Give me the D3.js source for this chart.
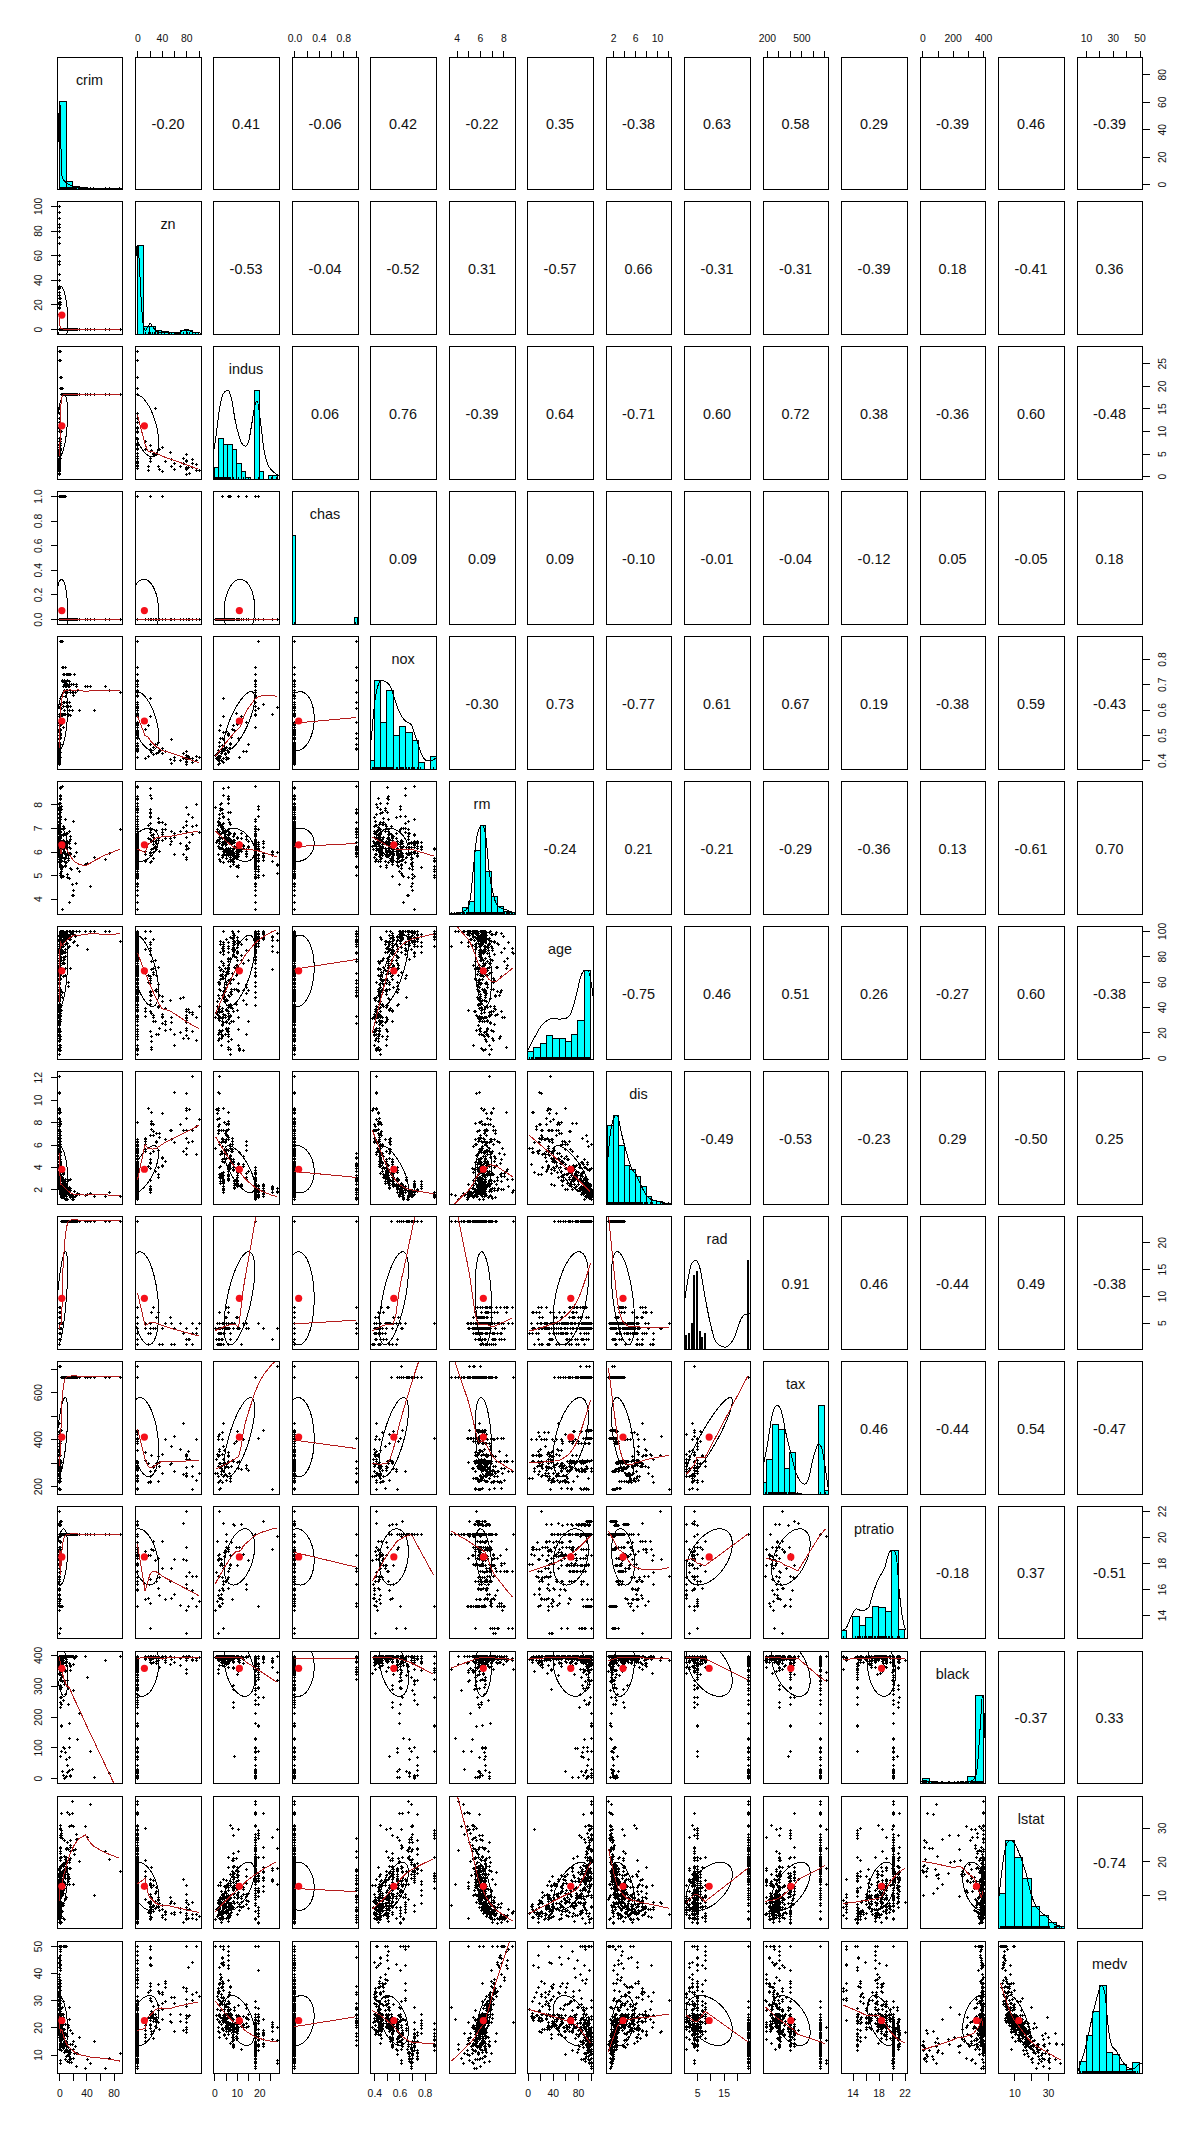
<!DOCTYPE html>
<html>
<head>
<meta charset="utf-8">
<script src="https://cdn.jsdelivr.net/npm/d3@7"></script>
<style>
body { margin: 0; background: #fff; }
svg { display: block; }
text { font-family: "Liberation Sans", Arial, sans-serif; fill: #111; }
</style>
</head>
<body>
<div id="chart"></div>
<script>
var varNames = ["crim","zn","indus","chas","nox","rm","age","dis","rad","tax","ptratio","black","lstat","medv"];

var varMin = [0.00632,0,0.46,0,0.385,3.561,2.9,1.1296,1,187,12.6,0.32,1.73,5];
var varMax = [88.9762,100,27.74,1,0.871,8.78,100,12.1265,24,711,22,396.9,37.97,50];
var varMean = [3.61,11.36,11.14,0.069,0.555,6.285,68.57,3.795,9.549,408.2,18.46,356.67,12.65,22.53];
var varSd = [8.6,23.32,6.86,0.254,0.116,0.703,28.15,2.106,8.707,168.5,2.165,91.29,7.14,9.197];

// upper triangle as printed, one row per variable
var corrUpper = [
  [-0.20,0.41,-0.06,0.42,-0.22,0.35,-0.38,0.63,0.58,0.29,-0.39,0.46,-0.39],
  [-0.53,-0.04,-0.52,0.31,-0.57,0.66,-0.31,-0.31,-0.39,0.18,-0.41,0.36],
  [0.06,0.76,-0.39,0.64,-0.71,0.60,0.72,0.38,-0.36,0.60,-0.48],
  [0.09,0.09,0.09,-0.10,-0.01,-0.04,-0.12,0.05,-0.05,0.18],
  [-0.30,0.73,-0.77,0.61,0.67,0.19,-0.38,0.59,-0.43],
  [-0.24,0.21,-0.21,-0.29,-0.36,0.13,-0.61,0.70],
  [-0.75,0.46,0.51,0.26,-0.27,0.60,-0.38],
  [-0.49,-0.53,-0.23,0.29,-0.50,0.25],
  [0.91,0.46,-0.44,0.49,-0.38],
  [0.46,-0.44,0.54,-0.47],
  [-0.18,0.37,-0.51],
  [-0.37,0.33],
  [-0.74]
];

// ticks and which of them carry a label
var xTicks = [[0,20,40,60,80],[0,20,40,60,80,100],[0,5,10,15,20,25],[0,0.2,0.4,0.6,0.8,1],[0.4,0.5,0.6,0.7,0.8],[4,5,6,7,8],[0,20,40,60,80,100],[2,4,6,8,10,12],[5,10,15,20],[200,300,400,500,600,700],[14,16,18,20,22],[0,100,200,300,400],[10,20,30],[10,20,30,40,50]];
var xLabels = [[0,40,80],[0,40,80],[0,10,20],[0,0.4,0.8],[0.4,0.6,0.8],[4,6,8],[0,40,80],[2,6,10],[5,15],[200,500],[14,18,22],[0,200,400],[10,30],[10,30,50]];
var yLabels = [[0,20,40,60,80],[0,20,40,60,80,100],[0,5,10,15,20,25],[0,0.2,0.4,0.6,0.8,1],[0.4,0.5,0.6,0.7,0.8],[4,5,6,7,8],[0,20,40,60,80,100],[2,4,6,8,10,12],[5,10,15,20],[200,400,600],[14,16,18,20,22],[0,100,200,300,400],[10,20,30],[10,20,30,40,50]];
var tickDigits = [0,0,0,1,1,0,0,0,0,0,0,0,0,0];

// histograms, tallest bar = 1
var crimBreaks = [0,10,20,30,40,50,60,70,80,90], crimBars = [1,0.09,0.025,0.015,0.005,0.002,0.002,0.002,0.002];
var znBreaks = [0,10,20,30,40,50,60,70,80,90,100], znBars = [1,0.087,0.087,0.04,0.027,0.02,0.01,0.04,0.04,0.02];
var indusBreaks = [0,2,4,6,8,10,12,14,16,18,20,22,24,26,28], indusBars = [0.125,0.455,0.39,0.39,0.33,0.18,0.09,0.02,0,1,0.09,0,0.045,0.04];
var chasBreaks = [0,1], chasBars = [1,0.074];
var noxBreaks = [0.35,0.4,0.45,0.5,0.55,0.6,0.65,0.7,0.75,0.8,0.85,0.9], noxBars = [0.1,1,0.53,0.89,0.38,0.48,0.41,0.32,0.07,0,0.14];
var rmBreaks = [3.5,4,4.5,5,5.5,6,6.5,7,7.5,8,8.5,9], rmBars = [0.005,0.02,0.07,0.14,0.72,1,0.48,0.2,0.08,0.03,0.015];
var ageBreaks = [0,10,20,30,40,50,60,70,80,90,100], ageBars = [0.08,0.125,0.18,0.27,0.23,0.23,0.2,0.28,0.43,1];
var disBreaks = [1,2,3,4,5,6,7,8,9,10,11,12,13], disBars = [0.89,1,0.66,0.43,0.39,0.31,0.2,0.09,0.035,0.025,0.008,0.005];
var radBreaks = [1,2,3,4,5,6,7,8,24], radBars = [0.15,0.18,0.29,0.83,0.87,0.2,0.13,0.18,1];
var taxBreaks = [150,200,250,300,350,400,450,500,550,600,650,700,750], taxBars = [0.13,0.39,0.78,0.73,0.29,0.47,0.01,0,0,0,1,0.04];
var ptratioBreaks = [12,13,14,15,16,17,18,19,20,21,22], ptratioBars = [0.087,0,0.24,0.14,0.23,0.36,0.35,0.3,1,0.1];
var blackBreaks = [0,50,100,150,200,250,300,350,400], blackBars = [0.05,0.02,0.008,0.005,0.005,0.01,0.07,1];
var lstatBreaks = [0,5,10,15,20,25,30,35,40], lstatBars = [0.39,1,0.8,0.56,0.25,0.14,0.065,0.015];
var medvBreaks = [5,10,15,20,25,30,35,40,45,50], medvBars = [0.13,0.43,0.7,1,0.23,0.21,0.1,0.045,0.12];

var allBreaks = [crimBreaks,znBreaks,indusBreaks,chasBreaks,noxBreaks,rmBreaks,ageBreaks,disBreaks,radBreaks,taxBreaks,ptratioBreaks,blackBreaks,lstatBreaks,medvBreaks];
var allBars = [crimBars,znBars,indusBars,chasBars,noxBars,rmBars,ageBars,disBars,radBars,taxBars,ptratioBars,blackBars,lstatBars,medvBars];
var tableVars = ["chas","rad"]; // these have few distinct values, narrow bars on each value

// density outlines, [value, height]
var crimDensity = [[-3.5,0.2],[-2,0.55],[0,0.95],[0.7,1],[1.5,0.84],[2.5,0.4],[3.2,0.18],[5,0.12],[9,0.08],[14,0.05],[20,0.03],[30,0.008],[50,0.003],[92,0]];
var znDensity = [[-4,0.45],[-1,1],[1,1],[3,0.8],[6,0.4],[8,0.2],[10,0.08],[13,0.04],[17,0.08],[21,0.12],[25,0.08],[30,0.04],[36,0.02],[45,0.02],[55,0.015],[65,0.015],[75,0.04],[80,0.055],[85,0.04],[90,0.02],[104,0.01]];
var indusDensity = [[-0.6,0.26],[0.9,0.52],[2.4,0.81],[3.9,0.96],[5.9,1],[7.7,0.9],[9.2,0.67],[10.8,0.5],[12.3,0.4],[13.8,0.37],[15.3,0.43],[16.8,0.64],[18.3,0.85],[19.1,0.88],[20.6,0.64],[22.1,0.33],[23.6,0.18],[25.9,0.09],[28.9,0.04]];
var noxDensity = [[0.376,0.33],[0.403,0.75],[0.429,0.94],[0.458,1],[0.495,0.98],[0.535,0.91],[0.561,0.79],[0.6,0.64],[0.64,0.55],[0.693,0.5],[0.732,0.35],[0.785,0.14],[0.817,0.095],[0.851,0.095],[0.891,0.125]];
var rmDensity = [[3.4,0],[4,0.005],[4.5,0.02],[5,0.08],[5.2,0.2],[5.45,0.54],[5.81,0.92],[6.18,1],[6.46,0.91],[6.8,0.46],[7.14,0.22],[7.5,0.09],[8.2,0.05],[9,0.005]];
var ageDensity = [[0,0.09],[10.7,0.24],[21.4,0.37],[32,0.44],[40,0.46],[50.6,0.45],[61,0.46],[69,0.52],[77,0.71],[85,0.94],[90.5,1],[96,1],[101,0.86],[104,0.71]];
var disDensity = [[0.9,0.42],[1.5,0.8],[2.3,0.99],[2.7,1],[3.5,0.8],[4.3,0.61],[5.3,0.41],[6.2,0.33],[7,0.22],[8.3,0.08],[9.2,0.045],[10.3,0.03],[11.6,0.01],[12.6,0.004]];
var radDensity = [[0.1,0.5],[1.6,0.79],[2.9,0.96],[4.4,1],[6,0.92],[7.9,0.6],[9.9,0.3],[11.7,0.1],[13.6,0.04],[15.4,0.02],[17.3,0.05],[19.2,0.14],[21,0.3],[22.9,0.39],[25.3,0.4]];
var taxDensity = [[166,0.31],[200,0.52],[251,0.92],[288,1],[322,0.95],[365,0.69],[408,0.46],[450,0.25],[493,0.14],[530,0.11],[564,0.18],[606,0.42],[649,0.56],[677,0.52],[706,0.31],[731,0.08]];
var ptratioDensity = [[12.3,0.08],[13.1,0.125],[13.9,0.26],[14.6,0.33],[15.4,0.31],[16.4,0.34],[17.2,0.52],[17.9,0.66],[18.9,0.79],[19.7,0.98],[20.2,1],[20.7,0.94],[21.2,0.52],[21.7,0.22],[22.2,0.09]];
var blackDensity = [[-9,0.02],[24,0.025],[56,0.012],[100,0.006],[200,0.003],[272,0.004],[316,0.015],[348,0.065],[363,0.2],[376,0.5],[387,0.8],[396,1],[406,0.8],[413,0.5]];
var lstatDensity = [[0,0.21],[1.8,0.52],[3.8,0.82],[5.8,0.97],[7.8,1],[10.4,0.95],[13.8,0.8],[16.8,0.63],[19.7,0.4],[22.7,0.25],[25.7,0.18],[29.7,0.12],[33.7,0.045],[38.6,0.015]];
var medvDensity = [[4,0.03],[7.7,0.19],[11.5,0.42],[15.2,0.68],[18.5,0.88],[21.5,1],[24,0.91],[26.5,0.53],[29,0.32],[32.7,0.25],[36.4,0.15],[41.4,0.06],[45.1,0.045],[48.9,0.09],[51.9,0.11]];
var allDensity = [crimDensity,znDensity,indusDensity,null,noxDensity,rmDensity,ageDensity,disDensity,radDensity,taxDensity,ptratioDensity,blackDensity,lstatDensity,medvDensity];

// crim,zn,indus,chas,nox,rm,age,dis,rad,tax,ptratio,black,lstat,medv
var suburbTracts = [
[.00632,18,2.31,0,.538,6.575,65.2,4.09,1,296,15.3,396.9,4.98,24],[.02729,0,7.07,0,.469,7.185,61.1,4.97,2,242,17.8,392.8,4.03,34.7],
[.06905,0,2.18,0,.458,7.147,54.2,6.06,3,222,18.7,396.9,5.33,36.2],[.08829,12.5,7.87,0,.524,6.012,66.6,5.56,5,311,15.2,395.6,12.43,22.9],
[.21124,12.5,7.87,0,.524,5.631,100,6.08,5,311,15.2,386.6,29.93,16.5],[.22489,12.5,7.87,0,.524,6.377,94.3,6.35,5,311,15.2,392.5,20.45,15],
[.09378,12.5,7.87,0,.524,5.889,39,5.45,5,311,15.2,390.5,15.71,21.7],[.63796,0,8.14,0,.538,6.096,84.5,4.46,4,307,21,380,10.26,18.2],
[1.05393,0,8.14,0,.538,5.935,29.3,4.5,4,307,21,386.9,6.58,23.1],[.80271,0,8.14,0,.538,5.456,36.6,3.8,4,307,21,289,11.69,20.2],
[1.25179,0,8.14,0,.538,5.57,98.1,3.8,4,307,21,376.6,21.02,13.6],[1.23247,0,8.14,0,.538,6.142,91.7,3.98,4,307,21,396.9,18.72,15.2],
[.75026,0,8.14,0,.538,5.924,94.1,4.4,4,307,21,394.3,16.3,15.6],[.67191,0,8.14,0,.538,5.813,90.3,4.68,4,307,21,376.9,14.81,16.6],
[.77299,0,8.14,0,.538,6.495,94.4,4.45,4,307,21,387.9,12.8,18.4],[1.13081,0,8.14,0,.538,5.713,94.1,4.23,4,307,21,360.2,22.6,12.7],
[1.38799,0,8.14,0,.538,5.95,82,3.99,4,307,21,232.6,27.71,13.2],[1.61282,0,8.14,0,.538,6.096,96.9,3.76,4,307,21,248.3,20.34,13.5],
[.09744,0,5.96,0,.499,5.841,61.4,3.38,5,279,19.2,377.6,11.41,20],[.17505,0,5.96,0,.499,5.966,30.2,3.85,5,279,19.2,393.4,10.13,24.7],
[.03359,75,2.95,0,.428,7.024,15.8,5.4,3,252,18.3,395.6,1.98,34.9],[.1415,0,6.91,0,.448,6.169,6.6,5.72,3,233,17.9,383.4,5.81,25.3],
[.12744,0,6.91,0,.448,6.77,2.9,5.72,3,233,17.9,385.4,4.84,26.6],[.12269,0,6.91,0,.448,6.069,40,5.72,3,233,17.9,389.4,9.55,21.2],
[.18836,0,6.91,0,.448,5.786,33.3,5.1,3,233,17.9,396.9,14.15,20],[.25387,0,6.91,0,.448,5.399,95.3,5.87,3,233,17.9,396.9,30.81,14.4],
[.08873,21,5.64,0,.439,5.963,45.7,6.81,4,243,16.8,395.6,13.45,19.7],[.0536,21,5.64,0,.439,6.511,21.1,6.81,4,243,16.8,396.9,5.28,25],
[.0136,75,4,0,.41,5.888,47.6,7.32,3,469,21.1,396.9,14.8,18.9],[.02055,85,.74,0,.41,6.383,35.7,9.19,2,313,17.3,396.9,5.77,24.7],
[.01432,100,1.32,0,.411,6.816,40.5,8.32,5,256,15.1,392.9,3.95,31.6],[.15445,25,5.13,0,.453,6.145,29.2,7.81,8,284,19.7,390.7,6.86,23.3],
[.14932,25,5.13,0,.453,5.741,66.2,7.23,8,284,19.7,395.1,13.15,18.7],[.11027,25,5.13,0,.453,6.456,67.8,7.23,8,284,19.7,396.9,6.73,22.2],
[.01951,17.5,1.38,0,.4161,7.104,59.5,9.22,3,216,18.6,393.2,8.05,33],[.04379,80,3.37,0,.398,5.787,31.1,6.61,4,337,16.1,396.9,10.24,19.4],
[.13554,12.5,6.07,0,.409,5.594,36.8,6.5,4,345,18.9,396.9,13.09,17.4],[.08826,0,10.81,0,.413,6.417,6.6,5.29,4,305,19.2,383.7,6.72,24.2],
[.09164,0,10.81,0,.413,6.065,7.8,5.29,4,305,19.2,390.9,5.52,22.8],[.07896,0,12.83,0,.437,6.273,6,4.25,5,398,18.7,394.9,6.78,24.1],
[.10153,0,12.83,0,.437,6.279,74.5,4.05,5,398,18.7,373.7,11.97,20],[.05646,0,12.83,0,.437,6.232,53.7,5.01,5,398,18.7,386.4,12.34,21.2],
[.04113,25,4.86,0,.426,6.727,33.5,5.4,4,281,19,396.9,5.29,28],[.03659,25,4.86,0,.426,6.302,32.2,5.4,4,281,19,396.9,6.72,24.8],
[.05059,0,4.49,0,.449,6.389,48,4.78,3,247,18.5,396.9,9.62,23.9],[.05188,0,4.49,0,.449,6.015,45.1,4.43,3,247,18.5,396,12.86,22.5],
[.0566,0,3.41,0,.489,7.007,86.3,3.42,2,270,17.8,396.9,5.5,23.6],[.04684,0,3.41,0,.489,6.417,66.1,3.09,2,270,17.8,392.2,8.81,22.6],
[.04203,28,15.04,0,.464,6.442,53.6,3.67,4,270,18.2,395,8.16,22.9],[.04294,28,15.04,0,.464,6.249,77.3,3.61,4,270,18.2,396.9,10.59,20.6],
[.11504,0,2.89,0,.445,6.163,69.6,3.5,2,276,18,391.8,11.34,21.4],[.08187,0,2.89,0,.445,7.82,36.9,3.5,2,276,18,393.5,3.57,43.8],
[.14866,0,8.56,0,.52,6.727,79.9,2.78,5,384,20.9,394.8,9.42,27.5],[.22876,0,8.56,0,.52,6.405,85.4,2.72,5,384,20.9,70.8,10.63,18.6],
[.1396,0,8.56,0,.52,6.167,90,2.42,5,384,20.9,392.7,12.33,20.1],[.1712,0,8.56,0,.52,5.836,91.9,2.21,5,384,20.9,395.7,18.66,19.5],
[.12802,0,8.56,0,.52,6.474,97.1,2.43,5,384,20.9,395.2,12.27,19.8],[.10793,0,8.56,0,.52,6.195,54.4,2.78,5,384,20.9,393.5,13,21.7],
[.12329,0,10.01,0,.547,5.913,92.9,2.35,6,432,17.8,395,16.21,18.8],[.14231,0,10.01,0,.547,6.254,84.2,2.26,6,432,17.8,388.7,10.45,18.5],
[.13158,0,10.01,0,.547,6.176,72.5,2.73,6,432,17.8,393.3,12.04,21.2],[.13058,0,10.01,0,.547,5.872,73.1,2.48,6,432,17.8,338.6,15.37,20.4],
[.06899,0,25.65,0,.581,5.87,69.7,2.26,2,188,19.1,389.2,14.37,22],[.09299,0,25.65,0,.581,5.961,92.9,2.09,2,188,19.1,378.1,17.93,20.5],
[.09849,0,25.65,0,.581,5.879,95.8,2.01,2,188,19.1,379.4,17.58,18.8],[.38735,0,25.65,0,.581,5.613,95.6,1.76,2,188,19.1,359.3,27.26,15.7],
[.32543,0,21.89,0,.624,6.431,98.8,1.81,4,437,21.2,396.9,15.39,18],[.34006,0,21.89,0,.624,6.458,98.9,2.12,4,437,21.2,395,12.6,19.2],
[.59005,0,21.89,0,.624,6.372,97.9,2.33,4,437,21.2,385.8,11.12,23],[.97617,0,21.89,0,.624,5.757,98.4,2.35,4,437,21.2,262.8,17.31,15.6],
[.32264,0,21.89,0,.624,5.942,93.5,1.97,4,437,21.2,378.3,16.9,17.4],[.2498,0,21.89,0,.624,5.857,98.2,1.67,4,437,21.2,392,21.32,13.3],
[.2909,0,21.89,0,.624,6.174,93.6,1.61,4,437,21.2,388.1,24.16,14],[3.32105,0,19.58,1,.871,5.403,100,1.32,5,403,14.7,396.9,26.82,13.4],
[2.77974,0,19.58,0,.871,4.903,97.8,1.35,5,403,14.7,396.9,29.29,11.8],[2.15505,0,19.58,0,.871,5.628,100,1.52,5,403,14.7,169.3,16.65,15.6],
[2.33099,0,19.58,0,.871,5.186,93.8,1.53,5,403,14.7,357,28.32,17.8],[1.6566,0,19.58,0,.871,6.122,97.3,1.62,5,403,14.7,372.8,14.1,21.5],
[1.12658,0,19.58,1,.871,5.012,88,1.61,5,403,14.7,343.3,12.12,15.3],[1.41385,0,19.58,1,.871,6.129,96,1.75,5,403,14.7,321,15.12,17],
[2.44668,0,19.58,0,.871,5.272,94,1.74,5,403,14.7,88.6,16.14,13.1],[1.34284,0,19.58,0,.605,6.066,100,1.76,5,403,14.7,353.9,6.43,24.3],
[1.27346,0,19.58,1,.605,6.25,92.6,1.8,5,403,14.7,338.9,5.5,27],[1.46336,0,19.58,0,.605,7.489,90.8,1.97,5,403,14.7,374.4,1.73,50],
[1.83377,0,19.58,1,.605,7.802,98.2,2.04,5,403,14.7,389.6,1.92,50],[2.24236,0,19.58,0,.605,5.854,91.8,2.42,5,403,14.7,395.1,11.64,22.7],
[2.01019,0,19.58,0,.605,7.929,96.2,2.05,5,403,14.7,369.3,3.7,50],[2.3004,0,19.58,0,.605,6.319,96.1,2.1,5,403,14.7,297.1,11.1,23.8],
[1.20742,0,19.58,0,.605,5.875,94.6,2.43,5,403,14.7,292.3,14.43,17.4],[.13914,0,4.05,0,.51,5.572,88.5,2.59,5,296,16.6,396.9,14.69,23.1],
[.08447,0,4.05,0,.51,5.859,68.7,2.7,5,296,16.6,393.2,9.64,22.6],[.07022,0,4.05,0,.51,6.02,47.2,3.55,5,296,16.6,393.2,10.11,23.2],
[.06642,0,4.05,0,.51,6.86,74.4,2.92,5,296,16.6,391.3,6.92,29.9],[.06588,0,2.46,0,.488,7.765,83.3,2.74,3,193,17.8,395.6,7.56,39.8],
[.09103,0,2.46,0,.488,7.155,92.2,2.7,3,193,17.8,394.1,4.82,37.9],[.08308,0,2.46,0,.488,5.604,89.8,2.99,3,193,17.8,391,13.98,26.4],
[.05602,0,2.46,0,.488,7.831,53.6,3.2,3,193,17.8,392.6,4.45,50],[.12579,45,3.44,0,.437,6.556,29.1,4.57,5,398,15.2,382.8,4.56,29.8],
[.09068,45,3.44,0,.437,6.951,21.5,6.48,5,398,15.2,377.7,5.1,37],[.08664,45,3.44,0,.437,7.178,26.3,6.48,5,398,15.2,390.5,2.87,36.4],
[.01439,60,2.93,0,.401,6.604,18.8,6.22,1,265,15.6,376.7,4.38,29.1],[.01381,80,.46,0,.422,7.875,32,5.65,4,255,14.4,394.2,2.97,50],
[.04011,80,1.52,0,.404,7.287,34.1,7.31,2,329,12.6,396.9,4.08,33.3],[.03768,80,1.52,0,.404,7.274,38.3,7.31,2,329,12.6,392.2,6.62,34.6],
[.01778,95,1.47,0,.403,7.135,13.9,7.65,3,402,17,384.3,4.45,32.9],[.02177,82.5,2.03,0,.415,7.61,15.7,6.27,2,348,14.7,395.4,3.11,42.3],
[.02009,95,2.68,0,.4161,8.034,31.9,5.12,4,224,14.7,390.6,2.88,50],[.22969,0,10.59,0,.489,6.326,52.5,4.35,4,277,18.6,394.9,10.97,24.4],
[.13587,0,10.59,1,.489,6.064,59.1,4.24,4,277,18.6,381.3,14.66,24.4],[.17446,0,10.59,1,.489,5.96,92.1,3.88,4,277,18.6,393.2,17.27,21.7],
[.21719,0,10.59,1,.489,5.807,53.8,3.65,4,277,18.6,390.9,16.03,22.4],[.28955,0,10.59,0,.489,5.412,9.8,3.59,4,277,18.6,348.9,29.55,23.7],
[.0456,0,13.89,1,.55,5.888,56,3.11,5,276,16.4,392.8,13.51,23.3],[.11069,0,13.89,1,.55,5.951,93.8,2.89,5,276,16.4,396.9,17.92,21.5],
[.35809,0,6.2,1,.507,6.951,88.5,2.86,8,307,17.4,391.7,9.71,26.7],[.62356,0,6.2,1,.507,6.879,77.7,3.27,8,307,17.4,390.4,9.93,27.5],
[.31533,0,6.2,0,.504,8.266,78.3,2.89,8,307,17.4,385,4.14,44.8],[.38214,0,6.2,0,.504,8.04,86.5,3.22,8,307,17.4,387.4,3.13,37.6],
[.29819,0,6.2,0,.504,7.686,17,3.38,8,307,17.4,377.5,3.92,46.7],[.537,0,6.2,0,.504,5.981,68.1,3.67,8,307,17.4,378.4,11.65,24.3],
[.57529,0,6.2,0,.507,8.337,73.3,3.84,8,307,17.4,385.9,2.47,41.7],[.44791,0,6.2,1,.507,6.726,66.5,3.65,8,307,17.4,360.2,8.05,29],
[.52058,0,6.2,1,.507,6.631,76.5,4.15,8,307,17.4,388.5,9.54,25.1],[.08244,30,4.93,0,.428,6.481,18.5,6.19,6,300,16.6,379.4,6.36,23.7],
[.11329,30,4.93,0,.428,6.897,54.3,6.34,6,300,16.6,391.3,11.38,22],[.1029,30,4.93,0,.428,6.358,52.9,7.04,6,300,16.6,372.8,11.22,22.2],
[.20608,22,5.86,0,.431,5.593,76.5,7.95,7,330,19.1,372.5,12.5,17.6],[.33983,22,5.86,0,.431,6.108,34.9,8.06,7,330,19.1,390.2,9.16,24.3],
[.16439,22,5.86,0,.431,6.433,49.1,7.83,7,330,19.1,374.7,9.52,24.5],[.14035,22,5.86,0,.431,6.487,13,7.4,7,330,19.1,396.3,5.9,24.4],
[.08221,22,5.86,0,.431,6.957,6.8,8.91,7,330,19.1,386.1,3.53,29.6],[.04819,80,3.64,0,.392,6.108,32,9.22,1,315,16.4,392.9,6.57,21.9],
[.01538,90,3.75,0,.394,7.454,34.2,6.34,3,244,15.9,386.3,3.11,44],[.65665,20,3.97,0,.647,6.842,100,2.01,5,264,13,391.9,6.9,30.1],
[.54011,20,3.97,0,.647,7.203,81.8,2.11,5,264,13,392.8,9.59,33.8],[.52014,20,3.97,0,.647,8.398,91.5,2.29,5,264,13,386.9,5.91,48.8],
[.55007,20,3.97,0,.647,7.206,91.6,1.93,5,264,13,387.9,8.1,36.5],[.7857,20,3.97,0,.647,7.014,84.6,2.13,5,264,13,384.1,14.79,30.7],
[.5405,20,3.97,0,.575,7.47,52.6,2.87,5,264,13,390.3,3.16,43.5],[.29916,20,6.96,0,.464,5.856,42.1,4.43,3,223,18.6,388.7,13,21.1],
[.1146,20,6.96,0,.464,6.538,58.7,3.92,3,223,18.6,395,7.73,24.4],[.05644,40,6.41,1,.447,6.758,32.9,4.08,4,254,17.6,396.9,3.53,32.4],
[.10469,40,6.41,1,.447,7.267,49,4.79,4,254,17.6,389.3,6.05,33.2],[.07978,40,6.41,0,.447,6.482,32.1,4.14,4,254,17.6,396.9,7.19,29.1],
[.03578,20,3.33,0,.4429,7.82,64.5,4.69,5,216,14.9,387.3,3.76,45.4],[.06129,20,3.33,1,.4429,7.645,49.7,5.21,5,216,14.9,377.1,3.01,46],
[.00906,90,2.97,0,.4,7.088,20.8,7.31,1,285,15.3,394.7,7.85,32.2],[.01965,80,1.76,0,.385,6.23,31.5,9.09,1,241,18.2,341.6,12.93,20.1],
[.0459,52.5,5.32,0,.405,6.315,45.6,7.32,6,293,16.6,396.9,7.6,22.3],[.03502,80,4.95,0,.411,6.861,27.9,5.12,4,245,19.2,396.9,3.33,28.5],
[.03615,80,4.95,0,.411,6.63,23.4,5.12,4,245,19.2,396.9,4.7,27.9],[.08199,0,13.92,0,.437,6.009,42.3,5.5,4,289,16,396.9,10.4,21.7],
[.05372,0,13.92,0,.437,6.549,51,5.96,4,289,16,392.9,7.39,27.1],[.06466,70,2.24,0,.4,6.345,20.1,7.83,5,358,14.8,368.2,4.97,22.5],
[.04417,70,2.24,0,.4,6.871,47.4,7.83,5,358,14.8,390.9,6.07,24.8],[.09266,34,6.09,0,.433,6.495,18.4,5.49,7,329,16.1,383.6,8.67,26.4],
[.05515,33,2.18,0,.472,7.236,41.1,4.02,7,222,18.4,393.7,6.93,36.1],[.07503,33,2.18,0,.472,7.42,71.9,3.1,7,222,18.4,396.9,6.47,33.4],
[.49298,0,9.9,0,.544,6.635,82.5,3.32,4,304,18.4,396.9,4.54,22.8],[2.63548,0,9.9,0,.544,4.973,37.8,2.52,4,304,18.4,350.5,12.64,16.1],
[.26169,0,9.9,0,.544,6.023,90.4,2.83,4,304,18.4,396.3,11.72,19.4],[.3692,0,9.9,0,.544,6.567,87.3,3.61,4,304,18.4,395.7,9.28,23.8],
[.31827,0,9.9,0,.544,5.914,83.2,3.99,4,304,18.4,390.7,18.33,17.8],[.40202,0,9.9,0,.544,6.382,67.2,3.53,4,304,18.4,395.2,10.36,23.1],
[.1676,0,7.38,0,.493,6.426,52.3,4.54,5,287,19.6,396.9,7.2,23.8],[.35114,0,7.38,0,.493,6.041,49.9,4.72,5,287,19.6,396.9,7.7,20.4],
[.34109,0,7.38,0,.493,6.415,40.1,4.72,5,287,19.6,396.9,6.12,25],[.30347,0,7.38,0,.493,6.312,28.9,5.42,5,287,19.6,396.9,6.15,23],
[.06617,0,3.24,0,.46,5.868,25.8,5.21,4,430,16.9,382.4,9.97,19.3],[.04544,0,3.24,0,.46,6.144,32.2,5.87,4,430,16.9,368.6,9.09,19.8],
[.03466,35,6.06,0,.4379,6.031,23.3,6.64,1,304,16.9,362.3,7.83,19.4],[.03738,0,5.19,0,.515,6.31,38.5,6.46,5,224,20.2,389.4,6.75,20.7],
[.03427,0,5.19,0,.515,5.869,46.3,5.23,5,224,20.2,396.9,9.8,19.5],[.03306,0,5.19,0,.515,6.059,37.3,4.81,5,224,20.2,396.1,8.51,20.6],
[.06151,0,5.19,0,.515,5.968,58.5,4.81,5,224,20.2,396.9,9.29,18.7],[.02498,0,1.89,0,.518,6.54,59.7,6.27,1,422,15.9,390,8.65,16.5],
[.03049,55,3.78,0,.484,6.874,28.1,6.47,5,370,17.6,388,4.61,31.2],[.06162,0,4.39,0,.442,5.898,52.3,8.01,3,352,18.8,364.6,12.67,17.2],
[.01501,80,2.01,0,.435,6.635,29.7,8.34,4,280,17,390.9,5.99,24.5],[.06211,40,1.25,0,.429,6.49,44.4,8.79,1,335,19.7,396.9,5.98,22.9],
[.07244,60,1.69,0,.411,5.884,18.5,10.71,4,411,18.3,392.3,7.79,18.6],[.01709,90,2.02,0,.41,6.728,36.1,12.1265,5,187,17,384.5,4.5,30.1],
[.04301,80,1.91,0,.413,5.663,21.9,10.59,4,334,22,382.8,8.05,18.2],[.15086,0,27.74,0,.609,5.454,92.7,1.82,4,711,20.1,395.1,18.06,15.2],
[.20746,0,27.74,0,.609,5.093,98,1.82,4,711,20.1,318.4,29.68,8.1],[.11132,0,27.74,0,.609,5.983,83.5,2.11,4,711,20.1,396.9,13.35,20.1],
[.27957,0,9.69,0,.585,5.926,42.6,2.38,6,391,19.2,396.9,13.59,24.5],[.2896,0,9.69,0,.585,5.39,72.9,2.8,6,391,19.2,396.9,21.14,19.7],
[.23912,0,9.69,0,.585,6.019,65.3,2.41,6,391,19.2,396.9,12.92,21.2],[.22438,0,9.69,0,.585,6.027,79.7,2.5,6,391,19.2,396.9,14.33,16.8],
[.04527,0,11.93,0,.573,6.12,76.7,2.29,1,273,21,396.9,9.08,20.6],[.10959,0,11.93,0,.573,6.794,89.3,2.39,1,273,21,393.5,6.48,22],
[.04741,0,11.93,0,.573,6.03,80.8,2.5,1,273,21,396.9,7.88,11.9]
];

var moreSuburbTracts = [
[.02731,0,7.07,0,.469,6.421,78.9,4.97,2,242,17.8,396.9,9.14,21.6],[.02985,0,2.18,0,.458,6.43,58.7,6.06,3,222,18.7,394.1,5.21,28.7],
[.17004,12.5,7.87,0,.524,6.004,85.9,6.59,5,311,15.2,386.7,17.1,18.9],[.62976,0,8.14,0,.538,5.949,61.8,4.71,4,307,21,396.9,8.26,20.4],
[.7842,0,8.14,0,.538,5.99,81.7,4.26,4,307,21,386.8,14.67,17.5],[.85204,0,8.14,0,.538,5.965,89.2,4.01,4,307,21,392.5,13.83,19.6],
[.84054,0,8.14,0,.538,5.599,85.7,4.45,4,307,21,303.4,16.51,13.9],[1.00245,0,8.14,0,.538,6.674,87.3,4.24,4,307,21,380.2,11.98,21],
[1.15172,0,8.14,0,.538,5.701,95,3.79,4,307,21,358.8,18.35,13.1],[.08014,0,5.96,0,.499,5.85,41.5,3.93,5,279,19.2,396.9,8.77,21],
[.17142,0,6.91,0,.448,5.682,33.8,5.1,3,233,17.9,396.9,10.21,19.3],[.21977,0,6.91,0,.448,5.602,62,6.09,3,233,17.9,396.9,16.2,19.4],
[.04981,21,5.64,0,.439,5.998,21.4,6.81,4,243,16.8,396.9,8.43,23.4],[.17171,25,5.13,0,.453,5.966,93.4,6.82,8,284,19.7,378.1,14.44,16],
[.03584,80,3.37,0,.398,6.29,17.8,6.61,4,337,16.1,396.9,4.67,23.5],[.12816,12.5,6.07,0,.409,5.885,33,6.5,4,345,18.9,396.9,8.79,20.9],
[.19539,0,10.81,0,.413,6.245,6.2,5.29,4,305,19.2,377.2,7.54,23.4],[.08707,0,12.83,0,.437,6.14,45.8,4.09,5,398,18.7,387,10.27,20.8],
[.04462,25,4.86,0,.426,6.619,70.4,5.4,4,281,19,395.6,7.22,23.9],[.05735,0,4.49,0,.449,6.63,56.1,4.44,3,247,18.5,392.3,6.53,26.6],
[.05302,0,3.41,0,.489,7.079,63.1,3.41,2,270,17.8,396.1,5.7,28.7],[.02875,28,15.04,0,.464,6.211,28.9,3.67,4,270,18.2,396.3,6.21,25],
[.12083,0,2.89,0,.445,8.069,76,3.5,2,276,18,396.9,4.21,38.7],[.11432,0,8.56,0,.52,6.781,71.3,2.86,5,384,20.9,395.6,7.67,26.5],
[.13262,0,8.56,0,.52,5.851,96.7,2.11,5,384,20.9,394.1,16.47,19.5],[.26363,0,8.56,0,.52,6.229,91.2,2.55,5,384,20.9,391.2,15.55,19.4],
[.22212,0,10.01,0,.547,6.092,95.4,2.55,6,432,17.8,396.9,17.09,18.7],[.15098,0,10.01,0,.547,6.021,82.6,2.75,6,432,17.8,394.5,10.3,19.2],
[.07165,0,25.65,0,.581,6.004,84.1,2.2,2,188,19.1,377.7,14.27,20.3],[.16902,0,25.65,0,.581,5.986,88.4,1.99,2,188,19.1,385,14.81,21.4],
[.88125,0,21.89,0,.624,5.637,94.7,1.98,4,437,21.2,396.9,18.34,14.3],[.32982,0,21.89,0,.624,5.822,95.4,2.47,4,437,21.2,388.7,15.03,18.4],
[.35233,0,21.89,0,.624,6.454,98.4,1.85,4,437,21.2,394.1,14.59,17.1],[1.62864,0,21.89,0,.624,5.019,100,1.44,4,437,21.2,396.9,34.41,14.4],
[2.37934,0,19.58,0,.871,6.13,100,1.42,5,403,14.7,172.9,27.8,13.8],[2.73397,0,19.58,0,.871,5.597,94.9,1.53,5,403,14.7,351.9,21.45,15.4],
[2.14918,0,19.58,0,.871,5.709,98.5,1.62,5,403,14.7,262,15.79,19.4],[1.22358,0,19.58,0,.605,6.943,97.4,1.88,5,403,14.7,363.4,4.59,41.3],
[2.924,0,19.58,0,.605,6.101,93,2.28,5,403,14.7,240.2,9.81,25],[2.44953,0,19.58,0,.605,6.402,95.2,2.26,5,403,14.7,330,11.32,22.3],
[.09178,0,4.05,0,.51,6.416,84.1,2.65,5,296,16.6,395.5,9.04,23.6],[.05425,0,4.05,0,.51,6.315,73.4,3.32,5,296,16.6,395.6,6.29,24.6],
[.06888,0,2.46,0,.488,6.144,62.2,2.6,3,193,17.8,396.9,9.45,36.2],[.06047,0,2.46,0,.488,6.153,68.8,3.28,3,193,17.8,387.1,13.15,29.6],
[.0837,45,3.44,0,.437,7.185,38.9,4.57,5,398,15.2,396.9,5.39,34.9],[.02187,60,2.93,0,.401,6.8,9.9,6.22,1,265,15.6,393.4,5.03,31.1],
[.04666,80,1.52,0,.404,7.107,36.6,7.31,2,329,12.6,354.3,8.61,30.3],[.03445,82.5,2.03,0,.415,6.162,38.4,6.27,2,348,14.7,393.8,7.43,24.1],
[.13642,0,10.59,0,.489,5.891,22.3,3.95,4,277,18.6,396.9,10.87,22.6],[.43571,0,10.59,1,.489,5.344,100,3.88,4,277,18.6,396.9,23.09,20],
[.14052,0,10.59,0,.489,6.375,32.3,3.95,4,277,18.6,385.8,9.38,28.1],[.07013,0,13.89,0,.55,6.642,85.1,3.42,5,276,16.4,392.8,9.69,28.7],
[.40771,0,6.2,1,.507,6.164,91.3,3.05,8,307,17.4,395.2,21.46,21.7],[.52693,0,6.2,0,.504,8.725,83,2.89,8,307,17.4,382,4.63,50],
[.44178,0,6.2,0,.504,6.552,21.4,3.38,8,307,17.4,380.3,3.76,31.5],[.33147,0,6.2,0,.507,8.247,70.4,3.65,8,307,17.4,379,3.95,48.3],
[.51183,0,6.2,0,.507,7.358,71.6,4.15,8,307,17.4,390.1,4.73,31.5],[.10612,30,4.93,0,.428,6.095,65.1,6.34,6,300,16.6,394.6,12.4,20.1],
[.19133,22,5.86,0,.431,5.605,70.2,7.95,7,330,19.1,389.1,18.46,18.5],[.19073,22,5.86,0,.431,6.718,17.5,7.83,7,330,19.1,393.7,6.56,26.2],
[.36894,22,5.86,0,.431,8.259,8.4,8.91,7,330,19.1,396.9,3.54,42.8],[.61154,20,3.97,0,.647,8.704,86.9,1.8,5,264,13,389.7,5.12,50],
[.53412,20,3.97,0,.647,7.52,89.4,2.14,5,264,13,388.4,7.26,43.1],[.76162,20,3.97,0,.647,5.56,62.8,1.99,5,264,13,392.4,10.45,22.8],
[.09065,20,6.96,1,.464,5.92,61.5,3.92,3,223,18.6,391.3,13.65,20.7],[.22188,20,6.96,1,.464,7.691,51.8,4.37,3,223,18.6,390.8,6.58,35.2],
[.06127,40,6.41,1,.447,6.826,27.6,4.86,4,254,17.6,393.5,4.16,33.1],[.03705,20,3.33,0,.4429,6.968,37.2,5.24,5,216,14.9,392.2,4.59,35.4],
[.01096,55,2.25,0,.389,6.453,31.9,7.31,1,300,15.3,394.7,8.23,22],[.04297,52.5,5.32,0,.405,6.565,22.9,7.32,6,293,16.6,371.7,9.51,24.8],
[.08265,0,13.92,0,.437,6.127,18.4,5.5,4,289,16,396.9,8.58,23.9],[.14103,0,13.92,0,.437,5.79,58,6.32,4,289,16,396.9,15.84,20.3],
[.03537,34,6.09,0,.433,6.59,40.4,5.49,7,329,16.1,395.8,9.5,22],[.05479,33,2.18,0,.472,6.616,58.1,3.37,7,222,18.4,393.4,8.93,28.4],
[.3494,0,9.9,0,.544,5.972,76.7,3.1,4,304,18.4,396.2,9.97,20.3],[.26938,0,9.9,0,.544,6.266,82.8,3.26,4,304,18.4,393.4,7.9,21.6],
[.24522,0,9.9,0,.544,5.782,71.7,4.03,4,304,18.4,396.9,15.94,19.8],[.18159,0,7.38,0,.493,6.376,54.3,4.54,5,287,19.6,396.9,6.87,23.1],
[.19186,0,7.38,0,.493,6.431,14.7,5.42,5,287,19.6,393.7,5.08,24.6],[.06724,0,3.24,0,.46,6.333,17.2,5.21,4,430,16.9,375.2,7.34,22.6],
[.05083,0,5.19,0,.515,6.316,38.1,6.46,5,224,20.2,389.7,5.68,22.2],[.03041,0,5.19,0,.515,5.895,59.6,5.62,5,224,20.2,394.8,10.56,18.5],
[.01301,35,1.52,0,.442,7.241,49.3,7.04,1,284,15.5,394.7,5.49,32.7],[.03113,0,4.39,0,.442,6.014,48.5,8.01,3,352,18.8,385.6,10.53,17.5],
[.02899,40,1.25,0,.429,6.939,34.5,8.79,1,335,19.7,389.9,5.89,26.6],[.18337,0,27.74,0,.609,5.414,98.3,1.76,4,711,20.1,344,23.97,7],
[.17331,0,9.69,0,.585,5.707,54,2.38,6,391,19.2,396.9,12.01,21.8],[.26838,0,9.69,0,.585,5.794,70.6,2.89,6,391,19.2,396.9,14.1,18.3],
[.06263,0,11.93,0,.573,6.593,69.1,2.48,1,273,21,392,9.67,22.4]
];

// tracts sharing zn 0, indus 18.1, rad 24, tax 666, ptratio 20.2
var cityZn = 0, cityIndus = 18.1, cityRad = 24, cityTax = 666, cityPtratio = 20.2;
// crim,chas,nox,rm,age,dis,black,lstat,medv
var cityTracts = [
[8.98296,1,.77,6.212,97.4,2.12,377.7,17.6,17.8],[5.20177,1,.77,6.127,83.4,2.72,395.4,11.48,22.7],[4.54192,0,.77,6.398,88,2.5,374.6,7.79,25],
[3.67822,0,.77,5.362,96.2,2.1,380.8,10.19,20.8],[3.47428,1,.718,8.78,82.9,1.9,354.6,5.29,21.9],[4.55587,0,.718,3.561,87.9,1.61,354.7,7.12,27.5],
[3.69695,0,.718,4.963,91.4,1.75,316,14,21.9],[13.5222,0,.631,3.863,100,1.51,131.4,13.33,23.1],[4.89822,0,.631,4.97,100,1.33,375.5,3.26,50],
[6.53876,1,.631,7.016,97.5,1.2,392,2.96,50],[8.26725,1,.668,5.875,89.6,1.13,347.9,8.88,50],[11.1081,0,.668,4.906,100,1.17,396.9,34.77,13.8],
[18.4982,0,.668,4.138,100,1.14,396.9,37.97,13.8],[15.288,0,.671,6.649,93.3,1.35,363,23.24,13.9],[23.6482,0,.671,6.38,96.2,1.39,396.9,23.69,13.1],
[88.9762,0,.671,6.968,91.9,1.42,396.9,17.21,10.4],[9.18702,0,.7,5.536,100,1.58,396.9,23.6,11.3],[20.0849,0,.7,4.368,91.2,1.44,285.8,30.63,8.8],
[24.3938,0,.7,4.652,100,1.47,396.9,28.28,10.5],[14.3337,0,.7,4.88,100,1.59,372.9,30.62,10.2],[6.96215,0,.7,5.713,97,1.93,394.4,17.11,15.1],
[11.5779,0,.7,5.036,97,1.77,396.9,25.68,9.7],[13.3598,0,.693,5.887,94.7,1.78,396.9,16.35,12.7],[5.87205,0,.693,6.405,96,1.68,396.9,19.37,12.5],
[38.3518,0,.693,5.453,100,1.49,396.9,30.59,5],[25.0461,0,.693,5.987,100,1.59,396.9,26.77,5.6],[9.59571,0,.693,6.404,100,1.64,376.1,20.31,12.1],
[41.5292,0,.693,5.531,85.4,1.61,329.5,27.38,8.5],[20.7162,0,.659,4.138,100,1.18,370.2,23.34,11.9],[7.40389,0,.597,5.617,97.9,1.45,314.6,26.4,17.2],
[51.1358,0,.597,5.757,100,1.41,2.6,10.11,15],[18.811,0,.597,4.628,100,1.55,28.8,34.37,17.9],[45.7461,0,.693,4.519,100,1.66,88.3,36.98,7],
[10.8342,0,.679,6.782,90.8,1.82,21.6,25.79,7.5],[73.5341,0,.679,5.957,100,1.8,16.5,20.62,8.8],[11.0874,0,.718,6.411,100,1.86,318.8,15.02,16.7],
[12.0482,0,.614,5.648,87.6,1.95,291.6,14.1,20.8],[8.79212,0,.584,5.565,70.6,2.06,3.65,17.16,11.7],[12.2472,0,.584,5.837,59.7,2,24.65,15.69,10.2],
[7.36711,0,.679,6.193,78.1,1.94,96.7,21.52,11],[8.49213,0,.584,6.348,86.1,2.05,83.45,17.64,14.5],[6.44405,0,.584,6.425,74.8,2.2,97.95,12.03,16.1],
[13.9134,0,.713,6.208,95,2.22,100.6,15.17,11.7],[14.4208,0,.74,6.461,93.3,2,27.49,18.05,9.6],[13.6781,0,.74,5.935,87.9,1.82,68.95,34.02,8.4],
[22.0511,0,.74,5.818,92.4,1.87,391.5,22.11,10.5],[5.66637,0,.74,6.219,100,2,395.7,16.59,18.4],[12.8023,0,.74,5.854,96.6,1.9,240.5,23.79,10.8],
[6.28807,0,.74,6.341,96.4,2.07,318,17.79,14.9],[9.32909,0,.713,6.185,98.7,2.26,396.9,18.13,14.1],[6.71772,0,.713,6.749,92.6,2.32,.32,17.44,13.4],
[5.09017,0,.713,6.297,91.8,2.37,385.1,17.27,16.1],[9.51363,0,.713,6.728,94.1,2.5,6.68,18.71,14.9],[4.66883,0,.713,5.976,87.9,2.58,10.48,19.01,12.7],
[7.75223,0,.713,6.301,83.7,2.78,272.2,16.23,14.9],[4.81213,0,.713,6.701,90,2.6,255.2,16.42,16.4],[6.65492,0,.713,6.317,83,2.73,396.9,13.99,19.5],
[7.83932,0,.655,6.209,65.4,2.96,396.9,13.22,21.4],[3.77498,0,.655,5.952,84.7,2.87,22.01,17.15,19],[15.5757,0,.58,5.926,71,2.91,368.7,18.13,19.1],
[4.34879,0,.58,6.167,84,3.03,396.9,16.29,19.9],[3.56868,0,.58,6.437,75,2.9,393.4,14.36,23.2],[8.05579,0,.584,5.427,95.4,2.43,352.6,18.14,13.8],
[4.87141,0,.614,6.484,93.6,2.31,396.2,18.68,16.7],[10.233,0,.614,6.185,96.7,2.17,379.7,18.03,14.6],[5.82401,0,.532,6.242,64.7,3.42,396.9,10.74,23],
[5.73116,0,.532,7.061,77,3.4,395.3,7.01,25],[2.37857,0,.583,5.871,41.9,3.72,370.7,13.34,20.6],[5.69175,0,.583,6.114,79.8,3.55,392.7,14.98,19.1],
[3.8497,1,.77,6.395,91,2.51,391.3,13.27,21.7],[3.83684,0,.77,6.251,91.1,2.3,350.7,14.19,19.9],[9.2323,0,.631,6.216,100,1.17,366.2,9.53,50],
[19.6091,0,.671,7.313,97.9,1.32,396.9,13.44,15],[9.82349,0,.671,6.794,98.8,1.36,396.9,21.24,13.3],[15.8744,0,.671,6.545,99.1,1.52,396.9,21.08,10.9],
[16.8118,0,.7,5.277,98.1,1.43,396.9,30.81,7.2],[8.15174,0,.7,5.39,98.9,1.73,396.9,20.85,11.5],[8.64476,0,.693,6.193,92.6,1.79,396.9,15.17,13.8],
[7.67202,0,.693,5.747,98.9,1.63,393.1,19.92,8.5],[14.2362,0,.693,6.343,100,1.57,396.9,20.32,7.2],[67.9208,0,.693,5.683,100,1.43,385,22.98,5],
[14.4383,0,.597,6.852,100,1.47,179.4,19.78,27.5],[28.6558,0,.597,5.155,100,1.59,211,20.08,16.3],[25.9406,0,.679,5.304,89.1,1.65,127.4,26.64,10.4],
[7.02259,0,.718,6.006,95.3,1.88,320,15.7,14.2],[15.8603,0,.679,5.896,95.4,1.91,7.68,24.39,8.3],[9.33889,0,.679,6.38,95.6,1.97,60.72,24.08,9.5],
[5.58107,0,.713,6.436,87.9,2.32,100.2,16.22,14.3],[15.1772,0,.74,6.152,100,1.91,9.32,26.45,8.7],[9.72418,0,.74,6.406,97.2,2.07,386,19.52,17.1],
[10.6718,0,.74,6.459,94.8,1.99,43.06,23.98,11.8],[7.52601,0,.713,6.417,98.3,2.19,304.2,19.31,13],[8.24809,0,.713,7.393,99.3,2.45,375.9,16.74,17.8],
[8.20058,0,.713,5.936,80.3,2.78,3.5,16.94,13.5],[3.69311,0,.713,6.376,88.4,2.57,391.4,14.65,17.7],[3.1636,0,.655,5.759,48.2,3.07,334.4,14.13,19.9],
[13.0751,0,.58,5.713,56.7,2.82,396.9,14.76,20.1],[4.64689,0,.614,6.98,67.6,2.53,374.7,11.66,29.8],[15.0234,0,.614,5.304,97.3,2.1,349.5,24.91,12],
[5.70818,0,.532,6.75,74.9,3.33,393.1,7.74,23.7],[3.67367,0,.583,6.312,51.9,3.99,388.6,10.58,21.2]
];

var cityFull = cityTracts.map(function(r) {
    return [r[0],cityZn,cityIndus,r[1],r[2],r[3],r[4],r[5],cityRad,cityTax,cityPtratio,r[6],r[7],r[8]];
});
var tracts = suburbTracts.concat(moreSuburbTracts, cityFull);

// lowess the way R does it (f = 2/3, 3 robustness passes)
function lowess(xIn, yIn) {
    var order = d3.range(xIn.length).sort(function(a, b) { return xIn[a] - xIn[b]; });
    var x = order.map(function(i) { return xIn[i]; });
    var y = order.map(function(i) { return yIn[i]; });
    var n = x.length, ns = Math.max(Math.min(Math.floor(2 / 3 * n + 1e-7), n), 2);
    var delta = 0.01 * (x[n - 1] - x[0]);
    var ys = new Array(n).fill(0), rw = new Array(n).fill(1), res = new Array(n).fill(0), w = new Array(n).fill(0);

    function lowest(xs, nleft, nright, userw) {
        var range = x[n - 1] - x[0];
        var h = Math.max(xs - x[nleft], x[nright] - xs), h9 = 0.999 * h, h1 = 0.001 * h;
        var a = 0, j = nleft;
        while (j < n) {
            w[j] = 0;
            var r = Math.abs(x[j] - xs);
            if (r <= h9) {
                w[j] = r <= h1 ? 1 : Math.pow(1 - Math.pow(r / h, 3), 3);
                if (userw) w[j] *= rw[j];
                a += w[j];
            } else if (x[j] > xs) break;
            j++;
        }
        var nrt = j - 1;
        if (a <= 0) return null;
        for (j = nleft; j <= nrt; j++) w[j] /= a;
        if (h > 0) {
            a = 0;
            for (j = nleft; j <= nrt; j++) a += w[j] * x[j];
            var b = xs - a, c = 0;
            for (j = nleft; j <= nrt; j++) c += w[j] * (x[j] - a) * (x[j] - a);
            if (Math.sqrt(c) > 0.001 * range) {
                b /= c;
                for (j = nleft; j <= nrt; j++) w[j] *= (b * (x[j] - a) + 1);
            }
        }
        var out = 0;
        for (j = nleft; j <= nrt; j++) out += w[j] * y[j];
        return out;
    }

    for (var iter = 0; iter <= 3; iter++) {
        var nleft = 0, nright = ns - 1, last = -1, i = 0;
        for (;;) {
            if (nright < n - 1) {
                if (x[i] - x[nleft] > x[nright + 1] - x[i]) { nleft++; nright++; continue; }
            }
            var fit = lowest(x[i], nleft, nright, iter > 0);
            ys[i] = fit === null ? y[i] : fit;
            if (last < i - 1) {
                var denom = x[i] - x[last];
                for (var j = last + 1; j < i; j++) {
                    var alpha = (x[j] - x[last]) / denom;
                    ys[j] = alpha * ys[i] + (1 - alpha) * ys[last];
                }
            }
            last = i;
            var cut = x[last] + delta;
            for (i = last + 1; i < n; i++) {
                if (x[i] > cut) break;
                if (x[i] === x[last]) { ys[i] = ys[last]; last = i; }
            }
            i = Math.max(last + 1, i - 1);
            if (last >= n - 1) break;
        }
        for (i = 0; i < n; i++) res[i] = y[i] - ys[i];
        if (iter === 3) break;
        var absRes = res.map(Math.abs);
        var cmad = 6 * d3.median(absRes), sc = d3.sum(absRes) / n;
        if (cmad < 1e-7 * sc) break;
        var c9 = 0.999 * cmad, c1 = 0.001 * cmad;
        absRes.forEach(function(r, k) {
            rw[k] = r <= c1 ? 1 : r <= c9 ? Math.pow(1 - Math.pow(r / cmad, 2), 2) : 0;
        });
    }
    return x.map(function(v, k) { return [v, ys[k]]; });
}

// ellipse covering one sd each way, tilted by r
function ellipsePoints(mx, my, sx, sy, r) {
    var theta = (r > 0 ? 1 : r < 0 ? -1 : 1) / Math.SQRT2;
    return d3.range(52).map(function(k) {
        var t = k * 2 * Math.PI / 51, a = Math.cos(t) * Math.sqrt(1 + r), b = Math.sin(t) * Math.sqrt(1 - r);
        return [mx + theta * (a - b) * sx, my + theta * (a + b) * sy];
    });
}

var pageW = 1200, pageH = 2131;
var colX = function(i) { return Math.floor(57.05 + 78.46 * i); };
var colX2 = function(i) { return Math.floor(57.05 + 78.46 * i + 65.7); };
var rowY = function(i) { return Math.floor(57.05 + 144.93 * i); };
var rowY2 = function(i) { return Math.floor(57.05 + 144.93 * i + 132.6); };

var svg = d3.select("#chart").append("svg").attr("width", pageW).attr("height", pageH);

var nVar = varNames.length;
var xScales = d3.range(nVar).map(function(v) {
    var pad = 0.04 * (varMax[v] - varMin[v]);
    return d3.scaleLinear().domain([varMin[v] - pad, varMax[v] + pad]).range([colX(v), colX2(v)]);
});
var yScales = d3.range(nVar).map(function(v) {
    var pad = 0.04 * (varMax[v] - varMin[v]);
    return d3.scaleLinear().domain([varMin[v] - pad, varMax[v] + pad]).range([rowY2(v), rowY(v)]);
});

var defs = svg.append("defs");
var crossPath = "M-1.5,0H1.5M0,-1.5V1.5";

function styleAxis(g) {
    g.select(".domain").remove();
    g.selectAll("line").attr("stroke", "#000").attr("shape-rendering", "crispEdges");
    g.selectAll("text").attr("font-size", "10.4px");
}

d3.range(nVar).forEach(function(row) {
    d3.range(nVar).forEach(function(col) {
        var x = xScales[col], y = yScales[row];
        var left = colX(col), right = colX2(col), top = rowY(row), bottom = rowY2(row);
        var clipId = "clip-" + row + "-" + col;
        defs.append("clipPath").attr("id", clipId).append("rect")
            .attr("x", left).attr("y", top).attr("width", right - left).attr("height", bottom - top);
        var panel = svg.append("g").attr("class", "panel");
        var inner = panel.append("g").attr("clip-path", "url(#" + clipId + ")");

        if (row === col) {
            drawDiagonal(inner, panel, col, left, right, top, bottom);
        } else if (row < col) {
            var r = corrUpper[row][col - row - 1];
            panel.append("text")
                .attr("x", (left + right) / 2)
                .attr("y", (top + bottom) / 2 + 1)
                .attr("dy", ".35em")
                .attr("text-anchor", "middle")
                .attr("font-size", "14.4px")
                .text(r.toFixed(2));
        } else {
            drawScatter(inner, row, col, x, y);
        }

        panel.append("rect")
            .attr("x", left + 0.5).attr("y", top + 0.5)
            .attr("width", right - left).attr("height", bottom - top)
            .attr("fill", "none").attr("stroke", "#000")
            .attr("shape-rendering", "crispEdges");
    });
});

function drawDiagonal(inner, panel, v, left, right, top, bottom) {
    var x = xScales[v];
    var y = d3.scaleLinear().domain([0, 1.5]).range([bottom, top]);
    var name = varNames[v];
    var breaks = allBreaks[v], bars = allBars[v];
    var binData;
    if (tableVars.indexOf(name) >= 0) {
        var half = d3.min(d3.pairs(breaks), function(p) { return p[1] - p[0]; }) * (breaks.length - 1) / 41;
        binData = breaks.map(function(b, i) { return { x0: b - half, x1: b + half, h: bars[i] }; });
    } else {
        binData = bars.map(function(h, i) { return { x0: breaks[i], x1: breaks[i + 1], h: h }; });
    }
    inner.selectAll("rect.bar").data(binData).enter().append("rect")
        .attr("class", "bar")
        .attr("x", function(d) { return x(d.x0); })
        .attr("y", function(d) { return y(d.h); })
        .attr("width", function(d) { return x(d.x1) - x(d.x0); })
        .attr("height", function(d) { return y(0) - y(d.h); })
        .attr("fill", "#00ffff")
        .attr("stroke", "#000")
        .attr("shape-rendering", "crispEdges");

    if (allDensity[v]) {
        var line = d3.line()
            .x(function(d) { return x(d[0]); })
            .y(function(d) { return y(d[1]); })
            .curve(d3.curveMonotoneX);
        inner.append("path").datum(allDensity[v])
            .attr("d", line).attr("fill", "none").attr("stroke", "#000")
            .attr("shape-rendering", "crispEdges");
    }

    inner.selectAll("line.rug").data(tracts).enter().append("line")
        .attr("class", "rug")
        .attr("x1", function(d) { return x(d[v]); })
        .attr("x2", function(d) { return x(d[v]); })
        .attr("y1", bottom)
        .attr("y2", bottom - 2)
        .attr("stroke", "#000")
        .attr("shape-rendering", "crispEdges");

    panel.append("text")
        .attr("x", (left + right) / 2)
        .attr("y", top + 23)
        .attr("dy", ".35em")
        .attr("text-anchor", "middle")
        .attr("font-size", "14.4px")
        .text(name);
}

function drawScatter(inner, row, col, x, y) {
    inner.selectAll("path.pt").data(tracts).enter().append("path")
        .attr("class", "pt")
        .attr("d", crossPath)
        .attr("transform", function(d) {
            return "translate(" + (Math.round(x(d[col])) + 0.5) + "," + (Math.round(y(d[row])) + 0.5) + ")";
        })
        .attr("stroke", "#000")
        .attr("fill", "none")
        .attr("shape-rendering", "crispEdges");

    var r = corrUpper[col][row - col - 1];
    var line = d3.line()
        .x(function(d) { return x(d[0]); })
        .y(function(d) { return y(d[1]); });

    inner.append("path")
        .datum(ellipsePoints(varMean[col], varMean[row], varSd[col], varSd[row], r))
        .attr("d", line).attr("fill", "none").attr("stroke", "#000")
        .attr("shape-rendering", "crispEdges");

    var xs = tracts.map(function(d) { return d[col]; });
    var ys = tracts.map(function(d) { return d[row]; });
    inner.append("path")
        .datum(lowess(xs, ys))
        .attr("d", line).attr("fill", "none").attr("stroke", "#b31c1c")
        .attr("shape-rendering", "crispEdges");

    inner.append("circle")
        .attr("cx", x(varMean[col]))
        .attr("cy", y(varMean[row]))
        .attr("r", 3.6)
        .attr("fill", "#f5101a");
}

// axes on alternating sides, bottom/right for even indexes, top/left for odd
function tickText(labels, digits) {
    return function(d) { return labels.indexOf(d) >= 0 ? d.toFixed(digits) : ""; };
}

d3.range(nVar).forEach(function(v) {
    var xAxis = (v % 2 === 0 ? d3.axisBottom(xScales[v]) : d3.axisTop(xScales[v]))
        .tickValues(xTicks[v])
        .tickFormat(tickText(xLabels[v], tickDigits[v]))
        .tickSize(7).tickSizeOuter(0);
    var gx = svg.append("g")
        .attr("transform", "translate(0," + (v % 2 === 0 ? rowY2(nVar - 1) + 0.5 : rowY(0) + 0.5) + ")")
        .call(xAxis);
    styleAxis(gx);
    gx.selectAll("text").attr("y", 0).attr("dy", ".35em")
        .attr("transform", "translate(0," + (v % 2 === 0 ? 20 : -19) + ")");

    var yAxis = (v % 2 === 0 ? d3.axisRight(yScales[v]) : d3.axisLeft(yScales[v]))
        .tickValues(xTicks[v])
        .tickFormat(tickText(yLabels[v], tickDigits[v]))
        .tickSize(7).tickSizeOuter(0);
    var gy = svg.append("g")
        .attr("transform", "translate(" + (v % 2 === 0 ? colX2(nVar - 1) + 0.5 : colX(0) + 0.5) + ",0)")
        .call(yAxis);
    styleAxis(gy);
    gy.selectAll("text").attr("x", 0).attr("y", 0).attr("dy", ".35em")
        .attr("text-anchor", "middle")
        .attr("transform", "translate(" + (v % 2 === 0 ? 20 : -19) + ",0) rotate(-90)");
});
</script>
</body>
</html>
